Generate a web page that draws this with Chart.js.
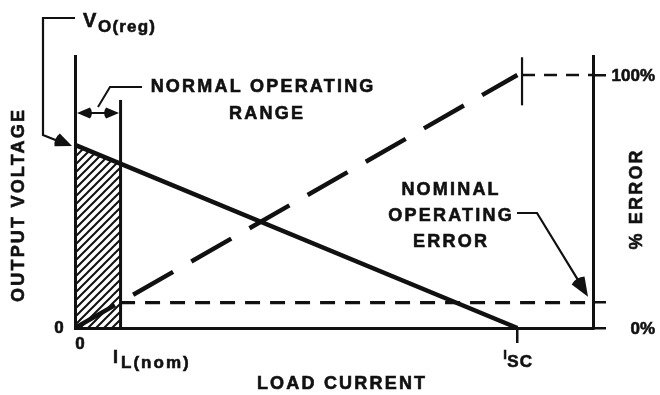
<!DOCTYPE html>
<html>
<head>
<meta charset="utf-8">
<script src="https://cdn.jsdelivr.net/npm/chart.js@4.4.1/dist/chart.umd.min.js"></script>
<style>
  html, body { margin: 0; padding: 0; background: #ffffff; }
  #wrap { width: 660px; height: 395px; }
</style>
</head>
<body>
<div id="wrap"><canvas id="c" width="660" height="395"></canvas></div>
<script>
// ---------- data (schematic units) ----------
// load current positions: 0, I_L(nom), I_SC  (x axis runs 0..100 up to the % error axis)
const currentMarks = [0, 8.7, 85.4];
const currentMainLabels = ['0', 'I', 'I'];
const currentSubLabels = ['', 'L(nom)', 'SC'];
// output voltage at those currents (left axis, 0..10)
const outputVoltage = [6.73, 6.04, 0];
// % error at those currents (right axis)
const percentError = [0, 10.2, 100];
// nominal operating error level and full-scale error level
const nominalError = [10, 10];
const fullScaleError = [100, 100];
const errorTicks = [0, 10, 100];
const errorTickLabels = ['0%', '', '100%'];
const voltageTickLabels = ['0'];
const iscMarker = 86.3;          // position of the short vertical I_SC marker at the top
const xAxisMax = 100, vAxisMax = 10, eAxisMax = 107.5;

// ---------- styling ----------
const BLACK = '#111111';
const FONT = "'Liberation Sans', Arial, Helvetica, sans-serif";

function hatchPattern() {
  const c = document.createElement('canvas');
  c.width = 8; c.height = 8;
  const g = c.getContext('2d');
  g.strokeStyle = BLACK;
  g.lineWidth = 2;
  g.beginPath();
  g.moveTo(-2, 10); g.lineTo(10, -2);
  g.moveTo(-2, 2); g.lineTo(2, -2);
  g.moveTo(6, 10); g.lineTo(10, 6);
  g.stroke();
  return g.createPattern(c, 'repeat');
}

function txt(ctx, s, x, y, size, o = {}) {
  ctx.save();
  ctx.font = `bold ${size}px ${FONT}`;
  ctx.fillStyle = BLACK;
  ctx.strokeStyle = BLACK;
  ctx.lineWidth = 0.6;
  const ls = o.ls || 0;
  ctx.letterSpacing = ls + 'px';
  ctx.textAlign = o.align || 'left';
  ctx.textBaseline = o.baseline || 'alphabetic';
  let dx = 0;
  if (ctx.textAlign === 'center') dx = ls / 2;
  if (ctx.textAlign === 'right') dx = ls;
  ctx.translate(x, y);
  if (o.rot) ctx.rotate(o.rot);
  ctx.fillText(s, dx, 0);
  ctx.strokeText(s, dx, 0);
  ctx.restore();
}

function poly(ctx, pts, w) {
  ctx.save();
  ctx.strokeStyle = BLACK;
  ctx.lineWidth = w;
  ctx.lineJoin = 'miter';
  ctx.beginPath();
  pts.forEach((p, i) => i ? ctx.lineTo(p[0], p[1]) : ctx.moveTo(p[0], p[1]));
  ctx.stroke();
  ctx.restore();
}

function arrowHead(ctx, tipX, tipY, fromX, fromY, len, half) {
  const dx = tipX - fromX, dy = tipY - fromY;
  const d = Math.hypot(dx, dy);
  const ux = dx / d, uy = dy / d;
  const bx = tipX - ux * len, by = tipY - uy * len;
  const nx = -uy, ny = ux;
  ctx.save();
  ctx.fillStyle = BLACK;
  ctx.beginPath();
  ctx.moveTo(tipX, tipY);
  ctx.lineTo(bx + nx * half, by + ny * half);
  ctx.quadraticCurveTo(bx - ux * 4, by - uy * 4, bx - nx * half, by - ny * half);
  ctx.closePath();
  ctx.fill();
  ctx.restore();
}

const annotations = {
  id: 'annotations',
  afterDraw(chart) {
    const { ctx, chartArea, scales: { x, yV, yE } } = chart;
    const px = v => x.getPixelForValue(v);
    const pv = v => yV.getPixelForValue(v);
    const pe = v => yE.getPixelForValue(v);
    const x0 = px(currentMarks[0]), xIL = px(currentMarks[1]), xSC = px(currentMarks[2]);
    const yBot = chartArea.bottom;

    // I_L(nom) boundary line (also right side of the normal operating range bracket)
    const bracketTop = pv(outputVoltage[0]) - 45;
    poly(ctx, [[xIL + 0.5, bracketTop], [xIL + 0.5, yBot]], 3);

    // I_SC marker at the top
    const xM = px(iscMarker);
    poly(ctx, [[xM, pe(107)], [xM, pe(88)]], 2.2);

    // normal operating range bracket
    const yB = bracketTop + 13;
    poly(ctx, [[x0 + 6, yB], [xIL - 6, yB]], 2);
    arrowHead(ctx, x0 + 2, yB, x0 + 20, yB, 13, 5.5);
    arrowHead(ctx, xIL - 1, yB, xIL - 20, yB, 13, 5.5);
    // leader to "NORMAL OPERATING RANGE"
    poly(ctx, [[x0 + 23, yB - 6], [x0 + 35, yB - 26], [x0 + 67, yB - 26]], 2);
    txt(ctx, 'NORMAL OPERATING', 262, 92, 18, { align: 'center', ls: 2.2 });
    txt(ctx, 'RANGE', 266, 119, 18, { align: 'center', ls: 2.2 });

    // V_O(reg) label and leader
    const yVO = pv(outputVoltage[0]);
    txt(ctx, 'V', 83, 27, 20);
    txt(ctx, 'O(reg)', 98, 32, 17, { ls: 1.2 });
    poly(ctx, [[x0, 18], [43, 18], [43, yVO - 10], [58, yVO - 4]], 2.2);
    arrowHead(ctx, x0 - 3, yVO + 1, 50, yVO - 8, 16, 7);

    // nominal operating error label and leader
    txt(ctx, 'NOMINAL', 450, 195, 18, { align: 'center', ls: 2.2 });
    txt(ctx, 'OPERATING', 450, 221, 18, { align: 'center', ls: 2.2 });
    txt(ctx, 'ERROR', 450, 247, 18, { align: 'center', ls: 2.2 });
    const tip = [chartArea.right - 5, pe(nominalError[0]) - 6];
    poly(ctx, [[517, 213], [537, 213], [tip[0] - 9, tip[1] - 15]], 2.2);
    arrowHead(ctx, tip[0], tip[1], 537, 213, 19, 7.5);

    // axis titles
    txt(ctx, 'OUTPUT VOLTAGE', 19, (chartArea.top + yBot) / 2 + 14, 18,
        { align: 'center', baseline: 'middle', ls: 2.2, rot: -Math.PI / 2 });
    txt(ctx, '% ERROR', 637, 200, 18,
        { align: 'center', baseline: 'middle', ls: 2.2, rot: -Math.PI / 2 });
    txt(ctx, 'LOAD CURRENT', 341, 384, 18, { align: 'center', baseline: 'middle', ls: 2.2 });

    // tick labels
    txt(ctx, voltageTickLabels[0], x0 - 16, pv(0), 17, { align: 'center', baseline: 'middle' });
    txt(ctx, currentMainLabels[0], x0 + 5, yBot + 16, 17, { align: 'center', baseline: 'middle' });
    txt(ctx, currentMainLabels[1], xIL - 7, yBot + 35, 18);
    txt(ctx, currentSubLabels[1], xIL + 1, yBot + 40, 17, { ls: 2 });
    txt(ctx, currentMainLabels[2], xSC - 14, yBot + 31, 13);
    txt(ctx, currentSubLabels[2], xSC - 10, yBot + 39, 17, { ls: 1 });
    txt(ctx, errorTickLabels[2], 655, pe(errorTicks[2]) + 6, 17, { align: 'right' });
    txt(ctx, errorTickLabels[0], 655, pe(errorTicks[0]) + 6, 17, { align: 'right' });
  }
};

const line = (extra) => Object.assign({
  borderColor: BLACK, pointRadius: 0, fill: false, tension: 0, clip: false,
  borderCapStyle: 'butt'
}, extra);

new Chart(document.getElementById('c'), {
  type: 'scatter',
  data: {
    datasets: [
      line({ label: 'normal operating range', yAxisID: 'yV', showLine: true, borderWidth: 0,
             fill: 'origin', backgroundColor: hatchPattern(),
             data: [{ x: currentMarks[0], y: outputVoltage[0] }, { x: currentMarks[1], y: outputVoltage[1] }] }),
      line({ label: 'output voltage', yAxisID: 'yV', showLine: true, borderWidth: 4.5,
             data: [{ x: currentMarks[0], y: outputVoltage[0] }, { x: currentMarks[2], y: outputVoltage[2] }] }),
      line({ label: '% error', yAxisID: 'yE', showLine: true, borderWidth: 4.5, borderDash: [46, 21],
             data: [{ x: currentMarks[0], y: percentError[0] }, { x: currentMarks[2], y: percentError[2] }] }),
      line({ label: 'nominal operating error', yAxisID: 'yE', showLine: true, borderWidth: 3.2, borderDash: [15, 10],
             data: [{ x: currentMarks[1], y: nominalError[0] }, { x: xAxisMax, y: nominalError[1] }] }),
      line({ label: '100% error', yAxisID: 'yE', showLine: true, borderWidth: 2.6, borderDash: [13, 9],
             data: [{ x: iscMarker, y: fullScaleError[0] }, { x: xAxisMax, y: fullScaleError[1] }] })
    ]
  },
  options: {
    responsive: false,
    animation: false,
    devicePixelRatio: 1,
    layout: { padding: { top: 56, left: 0, right: 0, bottom: 0 } },
    plugins: { legend: { display: false }, tooltip: { enabled: false } },
    scales: {
      x: {
        type: 'linear', position: 'bottom', min: 0, max: xAxisMax,
        afterFit(s) { s.height = 67; },
        afterBuildTicks(s) { s.ticks = [currentMarks[2]].map(v => ({ value: v })); },
        ticks: { display: false },
        grid: { display: true, drawOnChartArea: false, drawTicks: true, tickLength: 15,
                tickWidth: 2.5, tickColor: BLACK, color: BLACK, lineWidth: 2.5 },
        border: { display: true, color: BLACK, width: 3, z: 1 }
      },
      yV: {
        type: 'linear', position: 'left', min: 0, max: vAxisMax,
        afterFit(s) { s.width = 75; },
        ticks: { display: false },
        grid: { display: false },
        border: { display: true, color: BLACK, width: 3, z: 1 }
      },
      yE: {
        type: 'linear', position: 'right', min: 0, max: eAxisMax,
        afterFit(s) { s.width = 67; },
        afterBuildTicks(s) { s.ticks = errorTicks.map(v => ({ value: v })); },
        ticks: { display: false },
        grid: { display: true, drawOnChartArea: false, drawTicks: true, tickLength: 13,
                tickWidth: 2.5, tickColor: BLACK, color: BLACK, lineWidth: 2.5 },
        border: { display: true, color: BLACK, width: 3, z: 1 }
      }
    }
  },
  plugins: [annotations]
});
</script>
</body>
</html>
